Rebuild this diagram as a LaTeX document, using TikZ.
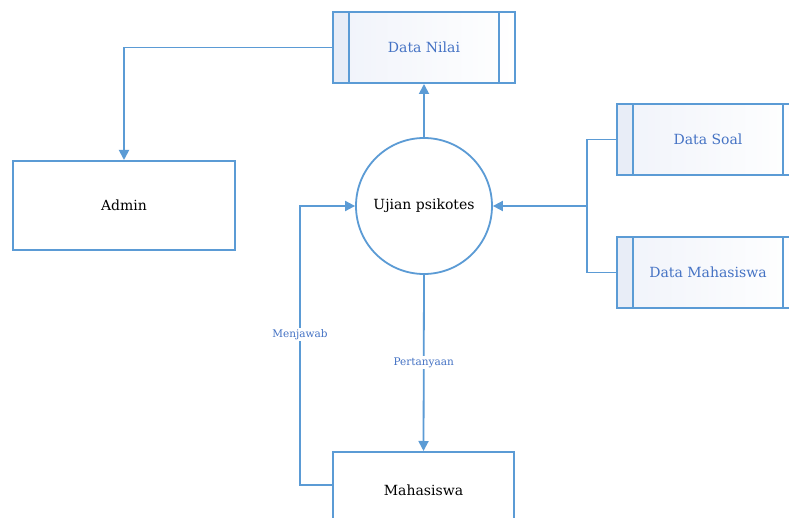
\documentclass[tikz,border=0pt]{standalone}
\usepackage{fontspec}
\setmainfont{DejaVu Serif}
\usetikzlibrary{arrows.meta,calc}
\definecolor{lineblue}{RGB}{91,155,213}
\definecolor{textblue}{RGB}{68,114,196}
\definecolor{storefill}{RGB}{232,237,247}
\definecolor{storetint}{RGB}{240,243,250}
\tikzset{
  flow/.style={draw=lineblue, line width=1.8pt},
  arrow/.style={flow, -{Triangle[width=10pt,length=10pt]}},
  entity/.style={draw=lineblue, line width=2pt, fill=white, minimum width=222pt,
    minimum height=89pt, font=\fontsize{14}{16}\selectfont, text=black},
  process/.style={draw=lineblue, line width=1.8pt, circle, fill=white, minimum size=136pt,
    inner sep=0pt, font=\fontsize{14}{16}\selectfont, text=black},
  datastore/.style={draw=lineblue, line width=2pt, minimum width=182pt, minimum height=71pt,
    left color=storetint, right color=white, text=textblue,
    font=\fontsize{14}{16}\selectfont,
    path picture={
      \fill[storefill] (path picture bounding box.north west) rectangle
        ([xshift=16pt]path picture bounding box.south west);
      \draw[lineblue, line width=2pt]
        ([xshift=16pt]path picture bounding box.north west) --
        ([xshift=16pt]path picture bounding box.south west);
      \draw[lineblue, line width=2pt]
        ([xshift=-16pt]path picture bounding box.north east) --
        ([xshift=-16pt]path picture bounding box.south east);
    }},
  flowlabel/.style={fill=white, inner sep=1.5pt, text=textblue,
    font=\fontsize{10.5}{12}\selectfont}
}
\begin{document}
\begin{tikzpicture}[x=1pt, y=-1pt]
  \useasboundingbox (0,0) rectangle (789,518);
  \clip (0,0) rectangle (789,518);
  \fill[white] (0,0) rectangle (789,518);

  % external entities
  \node[entity] (admin) at (124,205.5) {Admin};
  \node[entity, minimum width=181pt, minimum height=76pt] (mhs) at (423.5,490) {Mahasiswa};

  % process
  \node[process] (proc) at (424,206) {Ujian psikotes};

  % data stores
  \node[datastore] (nilai) at (424,47.5) {Data Nilai};
  \node[datastore] (soal) at (708,139.5) {Data Soal};
  \node[datastore] (dmhs) at (708,272.5) {Data Mahasiswa};

  % junction of the two incoming stores
  \coordinate (join) at (587,206);

  % flows
  \draw[arrow] (nilai.west) -| (admin.north);
  \draw[arrow] (proc.north) -- (nilai.south);
  \draw[flow] (soal.west) -| (join) |- (dmhs.west);
  \draw[arrow] (join) -- (proc.east);
  \draw[arrow] (proc.south) -- node[flowlabel, pos=0.5] {Pertanyaan} (mhs.north);
  \draw[arrow] ([yshift=5pt]mhs.west) -- ++(-32,0) |- node[flowlabel, pos=0.27] {Menjawab} (proc.west);
\end{tikzpicture}
\end{document}
